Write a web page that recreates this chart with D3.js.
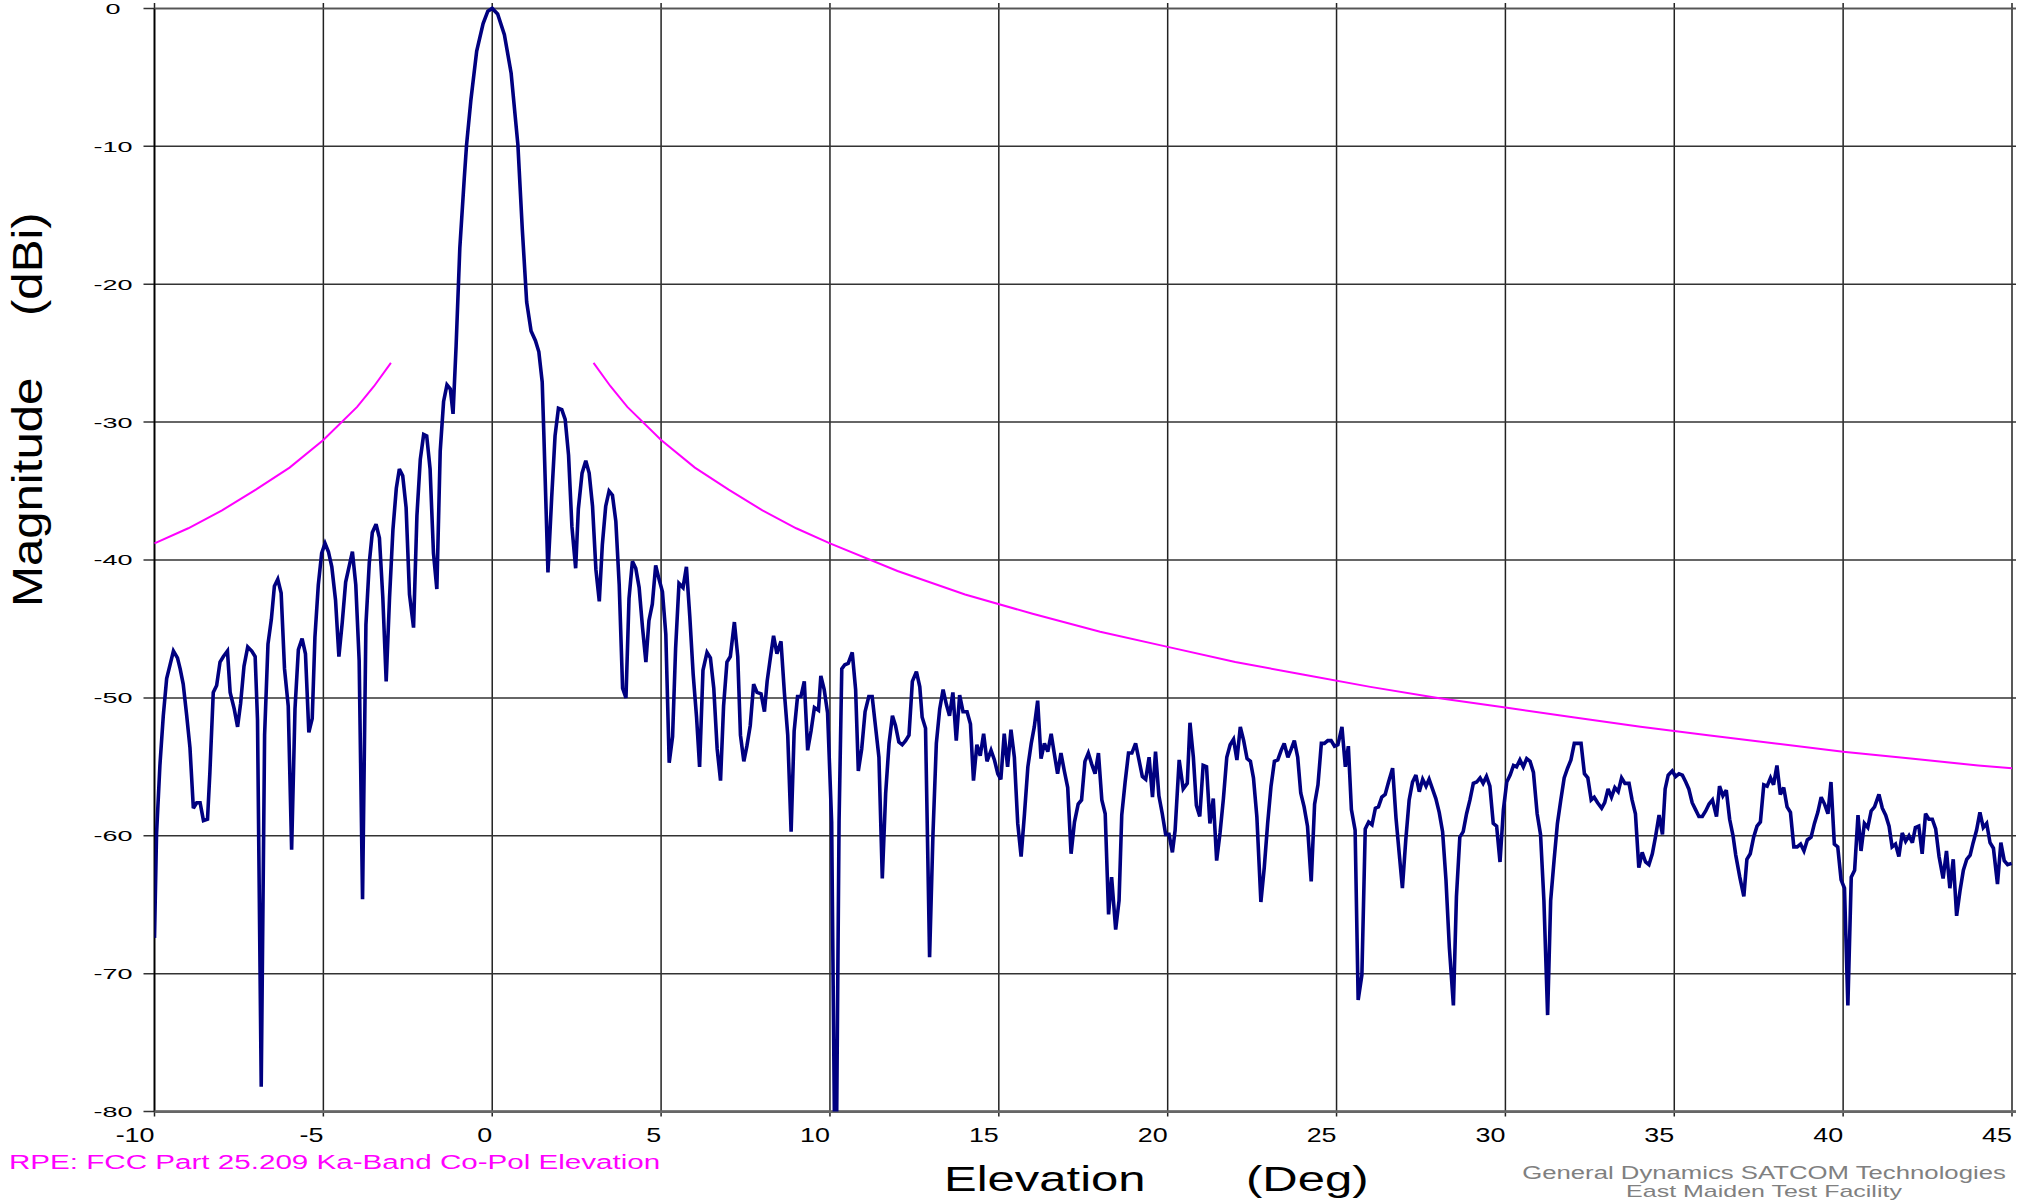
<!DOCTYPE html>
<html><head><meta charset="utf-8">
<script src="https://cdn.jsdelivr.net/npm/d3@7/dist/d3.min.js"></script>
<style>
html,body{margin:0;padding:0;background:#fff;}
svg{display:block;}
text{font-family:"Liberation Sans",Arial,Helvetica,sans-serif;}
</style>
</head><body>
<script>
// ---------- DATA ----------
const elevation = [
-10.00,-9.94,-9.84,-9.74,-9.64,-9.54,-9.44,-9.32,-9.24,-9.15,
-9.05,-8.95,-8.85,-8.75,-8.65,-8.55,-8.43,-8.36,-8.26,-8.16,
-8.06,-7.96,-7.84,-7.76,-7.64,-7.54,-7.45,-7.35,-7.24,-7.12,
-7.02,-6.95,-6.84,-6.74,-6.64,-6.54,-6.45,-6.35,-6.25,-6.15,
-6.04,-5.94,-5.84,-5.74,-5.63,-5.53,-5.43,-5.33,-5.25,-5.15,
-5.05,-4.95,-4.85,-4.75,-4.64,-4.54,-4.44,-4.34,-4.24,-4.14,
-4.04,-3.94,-3.84,-3.74,-3.64,-3.55,-3.44,-3.34,-3.24,-3.14,
-3.04,-2.94,-2.84,-2.75,-2.65,-2.55,-2.45,-2.33,-2.23,-2.13,
-2.03,-1.94,-1.84,-1.74,-1.64,-1.54,-1.44,-1.34,-1.24,-1.16,
-1.07,-0.96,-0.83,-0.76,-0.63,-0.46,-0.27,-0.13,0.00,0.16,
0.36,0.56,0.76,0.89,1.02,1.15,1.28,1.38,1.48,1.53,
1.65,1.76,1.86,1.96,2.06,2.16,2.26,2.36,2.47,2.55,
2.66,2.77,2.87,2.97,3.07,3.17,3.26,3.36,3.46,3.56,
3.66,3.76,3.86,3.96,4.05,4.15,4.25,4.35,4.45,4.55,
4.64,4.74,4.84,4.94,5.04,5.14,5.24,5.34,5.43,5.53,
5.65,5.75,5.85,5.95,6.05,6.14,6.24,6.36,6.46,6.56,
6.66,6.76,6.85,6.95,7.05,7.17,7.27,7.35,7.45,7.54,
7.64,7.74,7.84,7.96,8.06,8.14,8.23,8.33,8.43,8.55,
8.65,8.75,8.85,8.94,9.04,9.14,9.24,9.34,9.44,9.54,
9.66,9.73,9.83,9.93,10.05,10.13,10.20,10.27,10.35,10.44,
10.54,10.66,10.76,10.84,10.94,11.04,11.15,11.25,11.35,11.45,
11.55,11.65,11.75,11.85,11.94,12.04,12.14,12.24,12.34,12.44,
12.56,12.66,12.73,12.83,12.95,13.05,13.15,13.25,13.35,13.45,
13.54,13.64,13.74,13.84,13.94,14.06,14.16,14.25,14.35,14.45,
14.55,14.65,14.77,14.87,14.97,15.06,15.16,15.26,15.36,15.46,
15.56,15.66,15.76,15.86,15.96,16.05,16.15,16.25,16.35,16.45,
16.55,16.64,16.74,16.84,16.94,17.04,17.14,17.24,17.35,17.45,
17.55,17.65,17.75,17.85,17.95,18.05,18.15,18.25,18.34,18.46,
18.56,18.64,18.74,18.84,18.94,19.05,19.15,19.25,19.35,19.45,
19.55,19.64,19.74,19.84,19.94,20.04,20.14,20.22,20.34,20.46,
20.58,20.66,20.76,20.85,20.95,21.05,21.15,21.25,21.35,21.45,
21.55,21.65,21.75,21.85,21.95,22.05,22.15,22.25,22.35,22.45,
22.54,22.64,22.76,22.86,22.96,23.06,23.16,23.26,23.36,23.45,
23.56,23.66,23.75,23.85,23.94,24.04,24.14,24.25,24.35,24.45,
24.55,24.64,24.74,24.84,24.94,25.04,25.16,25.26,25.35,25.44,
25.55,25.64,25.75,25.85,25.95,26.05,26.15,26.24,26.34,26.44,
26.54,26.66,26.76,26.86,26.95,27.05,27.15,27.25,27.35,27.45,
27.55,27.65,27.74,27.84,27.94,28.04,28.14,28.24,28.34,28.46,
28.55,28.65,28.75,28.85,28.95,29.05,29.15,29.25,29.34,29.44,
29.54,29.64,29.74,29.84,29.94,30.04,30.14,30.24,30.33,30.43,
30.53,30.63,30.73,30.83,30.94,31.04,31.14,31.25,31.34,31.44,
31.54,31.64,31.74,31.84,31.94,32.04,32.14,32.24,32.34,32.44,
32.54,32.63,32.73,32.85,32.94,33.04,33.14,33.24,33.34,33.44,
33.54,33.66,33.75,33.85,33.95,34.05,34.15,34.25,34.35,34.45,
34.55,34.65,34.73,34.82,34.94,35.04,35.14,35.24,35.34,35.43,
35.53,35.63,35.73,35.83,35.93,36.03,36.13,36.25,36.34,36.44,
36.54,36.64,36.74,36.82,36.94,37.06,37.15,37.25,37.35,37.45,
37.55,37.65,37.75,37.85,37.94,38.04,38.14,38.24,38.34,38.44,
38.54,38.64,38.74,38.84,38.94,39.05,39.15,39.25,39.35,39.45,
39.55,39.64,39.74,39.84,39.94,40.04,40.14,40.24,40.34,40.44,
40.53,40.63,40.73,40.83,40.93,41.06,41.16,41.26,41.36,41.45,
41.55,41.65,41.75,41.85,41.95,42.05,42.14,42.24,42.34,42.44,
42.54,42.64,42.74,42.84,42.96,43.06,43.16,43.26,43.36,43.46,
43.56,43.66,43.76,43.85,43.95,44.05,44.15,44.25,44.35,44.45,
44.57,44.67,44.77,44.87,44.99
];
const magnitude = [
-67.4,-59.9,-54.9,-51.3,-48.6,-47.6,-46.6,-47.1,-47.9,-49.0,
-51.2,-53.6,-58.0,-57.6,-57.6,-58.9,-58.8,-55.4,-49.6,-49.1,
-47.4,-47.0,-46.6,-49.6,-50.8,-52.1,-50.4,-47.7,-46.3,-46.6,
-47.0,-51.6,-78.2,-52.7,-46.1,-44.3,-41.9,-41.4,-42.4,-47.9,
-50.6,-61.0,-50.8,-46.5,-45.7,-46.8,-52.5,-51.5,-45.6,-41.8,
-39.5,-38.8,-39.4,-40.5,-42.9,-47.0,-44.5,-41.6,-40.5,-39.4,
-41.8,-47.3,-64.6,-44.7,-40.2,-38.0,-37.4,-38.4,-42.7,-48.8,
-42.7,-37.8,-34.8,-33.4,-33.9,-36.2,-42.5,-44.9,-36.8,-32.7,
-30.9,-31.0,-33.4,-39.5,-42.1,-32.1,-28.5,-27.3,-27.6,-29.4,
-24.5,-17.4,-12.4,-9.9,-6.6,-3.1,-1.1,-0.2,0.0,-0.4,
-1.9,-4.7,-9.9,-16.0,-21.3,-23.4,-24.1,-24.9,-27.1,-31.0,
-40.9,-35.5,-31.0,-29.0,-29.1,-29.8,-32.4,-37.6,-40.6,-36.3,
-33.7,-32.8,-33.7,-36.1,-40.7,-43.0,-38.9,-36.1,-35.0,-35.3,
-37.2,-41.8,-49.3,-50.0,-42.8,-40.1,-40.6,-42.0,-44.9,-47.4,
-44.4,-43.2,-40.4,-41.4,-42.3,-45.4,-54.7,-52.8,-46.4,-41.7,
-42.0,-40.5,-44.1,-48.3,-51.4,-55.0,-48.0,-46.7,-47.1,-49.3,
-53.7,-56.0,-50.6,-47.4,-47.0,-44.5,-47.0,-52.7,-54.6,-53.5,
-52.0,-49.0,-49.6,-49.7,-51.0,-48.8,-47.2,-45.5,-46.8,-45.9,
-49.6,-52.7,-59.7,-52.4,-49.9,-49.9,-48.8,-53.8,-52.4,-50.7,
-50.9,-48.4,-49.4,-51.1,-59.0,-80.0,-80.0,-58.9,-47.9,-47.6,
-47.5,-46.7,-49.4,-55.3,-53.7,-51.0,-49.9,-49.9,-52.1,-54.3,
-63.1,-56.9,-53.3,-51.3,-52.0,-53.2,-53.4,-53.1,-52.7,-48.8,
-48.1,-49.2,-51.4,-52.2,-68.8,-59.9,-53.3,-50.8,-49.4,-50.5,
-51.3,-49.6,-53.1,-49.8,-51.0,-51.0,-51.9,-56.0,-53.4,-54.2,
-52.6,-54.6,-53.8,-54.5,-55.5,-55.9,-52.6,-55.0,-52.3,-54.3,
-59.1,-61.5,-58.4,-55.0,-53.3,-52.1,-50.2,-54.4,-53.3,-53.9,
-52.6,-54.0,-55.5,-54.0,-55.3,-56.5,-61.3,-59.0,-57.7,-57.4,
-54.6,-54.0,-54.8,-55.5,-54.0,-57.4,-58.4,-65.7,-63.0,-66.8,
-64.7,-58.5,-56.1,-54.0,-54.0,-53.3,-54.5,-55.7,-55.9,-54.3,
-57.2,-53.9,-57.1,-58.4,-59.9,-59.9,-61.2,-59.6,-54.5,-56.6,
-56.2,-51.8,-54.3,-57.8,-58.6,-54.9,-55.0,-59.1,-57.3,-61.8,
-59.8,-57.3,-54.3,-53.4,-53.0,-54.5,-52.1,-53.1,-54.4,-54.6,
-55.8,-58.6,-64.8,-62.3,-59.1,-56.4,-54.6,-54.5,-53.8,-53.3,
-54.3,-53.7,-53.1,-54.3,-56.9,-57.9,-59.3,-63.3,-57.7,-56.3,
-53.3,-53.3,-53.1,-53.1,-53.5,-53.4,-52.1,-55.0,-53.5,-58.1,
-59.6,-71.9,-70.1,-59.5,-59.0,-59.2,-58.0,-57.9,-57.2,-57.0,
-56.1,-55.1,-58.7,-61.4,-63.8,-60.3,-57.4,-56.1,-55.6,-56.8,
-55.9,-56.4,-55.9,-56.6,-57.3,-58.3,-59.7,-63.2,-68.1,-72.3,
-64.4,-60.1,-59.7,-58.4,-57.4,-56.2,-56.1,-55.8,-56.2,-55.7,
-56.4,-59.1,-59.3,-61.9,-58.1,-56.1,-55.6,-54.9,-55.0,-54.5,
-55.0,-54.4,-54.6,-55.4,-58.4,-59.9,-64.7,-73.0,-64.7,-61.8,
-59.1,-57.4,-55.8,-55.1,-54.5,-53.3,-53.3,-53.3,-55.5,-55.8,
-57.4,-57.2,-57.6,-58.0,-57.6,-56.6,-57.2,-56.5,-56.8,-55.8,
-56.2,-56.2,-57.4,-58.4,-62.3,-61.2,-61.9,-62.1,-61.3,-60.0,
-58.5,-59.9,-56.6,-55.6,-55.3,-55.7,-55.5,-55.6,-56.1,-56.6,
-57.6,-58.1,-58.6,-58.6,-58.2,-57.7,-57.4,-58.6,-56.4,-57.1,
-56.7,-58.8,-60.0,-61.4,-63.0,-64.4,-61.7,-61.3,-60.1,-59.3,
-59.0,-56.3,-56.4,-55.8,-56.3,-54.9,-57.0,-56.5,-57.9,-58.3,
-60.8,-60.8,-60.6,-61.1,-60.3,-60.1,-59.1,-58.3,-57.2,-57.7,
-58.4,-56.1,-60.6,-60.8,-63.2,-63.8,-72.3,-63.0,-62.5,-58.5,
-61.1,-59.1,-59.4,-58.2,-57.9,-57.0,-58.0,-58.5,-59.3,-60.8,
-60.6,-61.5,-59.8,-60.4,-60.0,-60.5,-59.4,-59.3,-61.3,-58.4,
-58.8,-58.8,-59.5,-61.5,-63.1,-61.1,-63.8,-61.7,-65.8,-64.0,
-62.5,-61.7,-61.4,-60.5,-59.6,-58.3,-59.4,-59.1,-60.5,-60.9,
-63.5,-60.5,-61.8,-62.1,-62.0
];

// FCC 25.209 envelope (magenta), read at selected angles
const envLeftX  = [-10, -9, -8, -7, -6, -5, -4, -3.5, -3];
const envLeftY  = [-38.8, -37.7, -36.4, -34.9, -33.3, -31.3, -28.9, -27.4, -25.7];
const envRightX = [3, 3.5, 4, 5, 6, 7, 8, 9, 10, 12, 14, 16, 18, 20, 22, 24, 26, 28, 30, 32, 34, 36, 38, 40, 42, 44, 45];
const envRightY = [-25.7, -27.4, -28.9, -31.3, -33.3, -34.9, -36.4, -37.7, -38.8, -40.8, -42.5, -43.9, -45.2, -46.3, -47.4, -48.3, -49.2, -50.0, -50.7, -51.4, -52.1, -52.7, -53.3, -53.9, -54.4, -54.9, -55.1];

const xTicks = [-10, -5, 0, 5, 10, 15, 20, 25, 30, 35, 40, 45];
const yTicks = [0, -10, -20, -30, -40, -50, -60, -70, -80];

const yTitle = ["Magnitude", "(dBi)"];
const xTitle = ["Elevation", "(Deg)"];
const legendText = "RPE: FCC Part 25.209 Ka-Band Co-Pol Elevation";
const creditLines = ["General Dynamics SATCOM Technologies", "East Maiden Test Facility"];

// ---------- DRAW ----------
const W = 2025, H = 1202;
const L = 154.5, R = 2012, T = 8.4, B = 1111.6;

const svg = d3.select("body").append("svg").attr("width", W).attr("height", H);
svg.append("rect").attr("width", W).attr("height", H).attr("fill", "#fff");

const x = d3.scaleLinear().domain([-10, 45]).range([L, R]);
const y = d3.scaleLinear().domain([-80, 0]).range([B, T]);

// grid
const grid = svg.append("g");
grid.selectAll("line.v").data(xTicks).enter().append("line")
  .attr("x1", d => x(d)).attr("x2", d => x(d))
  .attr("y1", 3).attr("y2", B + 5)
  .attr("stroke", "#222").attr("stroke-width", 1.5);
grid.selectAll("line.h").data(yTicks).enter().append("line")
  .attr("x1", L - 11).attr("x2", R + 4)
  .attr("y1", d => y(d)).attr("y2", d => y(d))
  .attr("stroke", "#333").attr("stroke-width", 1.5);

// frame
svg.append("line").attr("x1", L).attr("x2", L).attr("y1", T).attr("y2", B)
  .attr("stroke", "#000").attr("stroke-width", 1.7);
svg.append("line").attr("x1", L).attr("x2", R + 4).attr("y1", B).attr("y2", B)
  .attr("stroke", "#666").attr("stroke-width", 2.6);
svg.append("line").attr("x1", L).attr("x2", R + 4).attr("y1", T).attr("y2", T)
  .attr("stroke", "#555").attr("stroke-width", 1.5);

// clip
svg.append("clipPath").attr("id", "plotClip").append("rect")
  .attr("x", L).attr("y", T - 3).attr("width", R - L + 3).attr("height", B - T + 3);

const line = d3.line().x(d => x(d[0])).y(d => y(d[1]));

const envL = envLeftX.map((v, i) => [v, envLeftY[i]]);
const envR = envRightX.map((v, i) => [v, envRightY[i]]);
[envL, envR].forEach(seg => {
  svg.append("path").attr("d", line(seg)).attr("fill", "none")
    .attr("stroke", "#FF00FF").attr("stroke-width", 2.0);
});

const n = Math.min(elevation.length, magnitude.length);
const pts = d3.range(n).map(i => [elevation[i], magnitude[i]]);
svg.append("path").attr("d", line(pts)).attr("fill", "none")
  .attr("clip-path", "url(#plotClip)")
  .attr("stroke", "#000080").attr("stroke-width", 3.6)
  .attr("stroke-linejoin", "miter").attr("stroke-miterlimit", 3);

// stretched text helper
function stext(txt, tx, ty, size, sx, anchor, fill, rot) {
  return svg.append("text")
    .attr("transform", `translate(${tx},${ty})` + (rot ? ` rotate(${rot})` : "") + ` scale(${sx},1)`)
    .attr("text-anchor", anchor).attr("font-size", size).attr("fill", fill || "#000")
    .text(txt);
}

// y tick labels
yTicks.forEach(v => stext(String(v), 113, y(v) + 5.4, 15, 1.8, "middle"));
// x tick labels (right-aligned at tick)
xTicks.forEach(v => stext(String(v), x(v), 1142, 21, 1.28, "end"));

// axis titles
stext(yTitle[0], 42, 607, 42, 1.17, "start", "#000", -90);
stext(yTitle[1], 42, 316, 42, 1.17, "start", "#000", -90);
stext(xTitle[0], 944, 1191, 35, 1.4, "start");
stext(xTitle[1], 1246, 1191, 35, 1.4, "start");

// legend / credits
stext(legendText, 9, 1169, 20, 1.48, "start", "#FF00FF");
stext(creditLines[0], 1764, 1179, 17.5, 1.47, "middle", "#808080");
stext(creditLines[1], 1764, 1197, 17, 1.47, "middle", "#808080");
</script>
</body></html>
